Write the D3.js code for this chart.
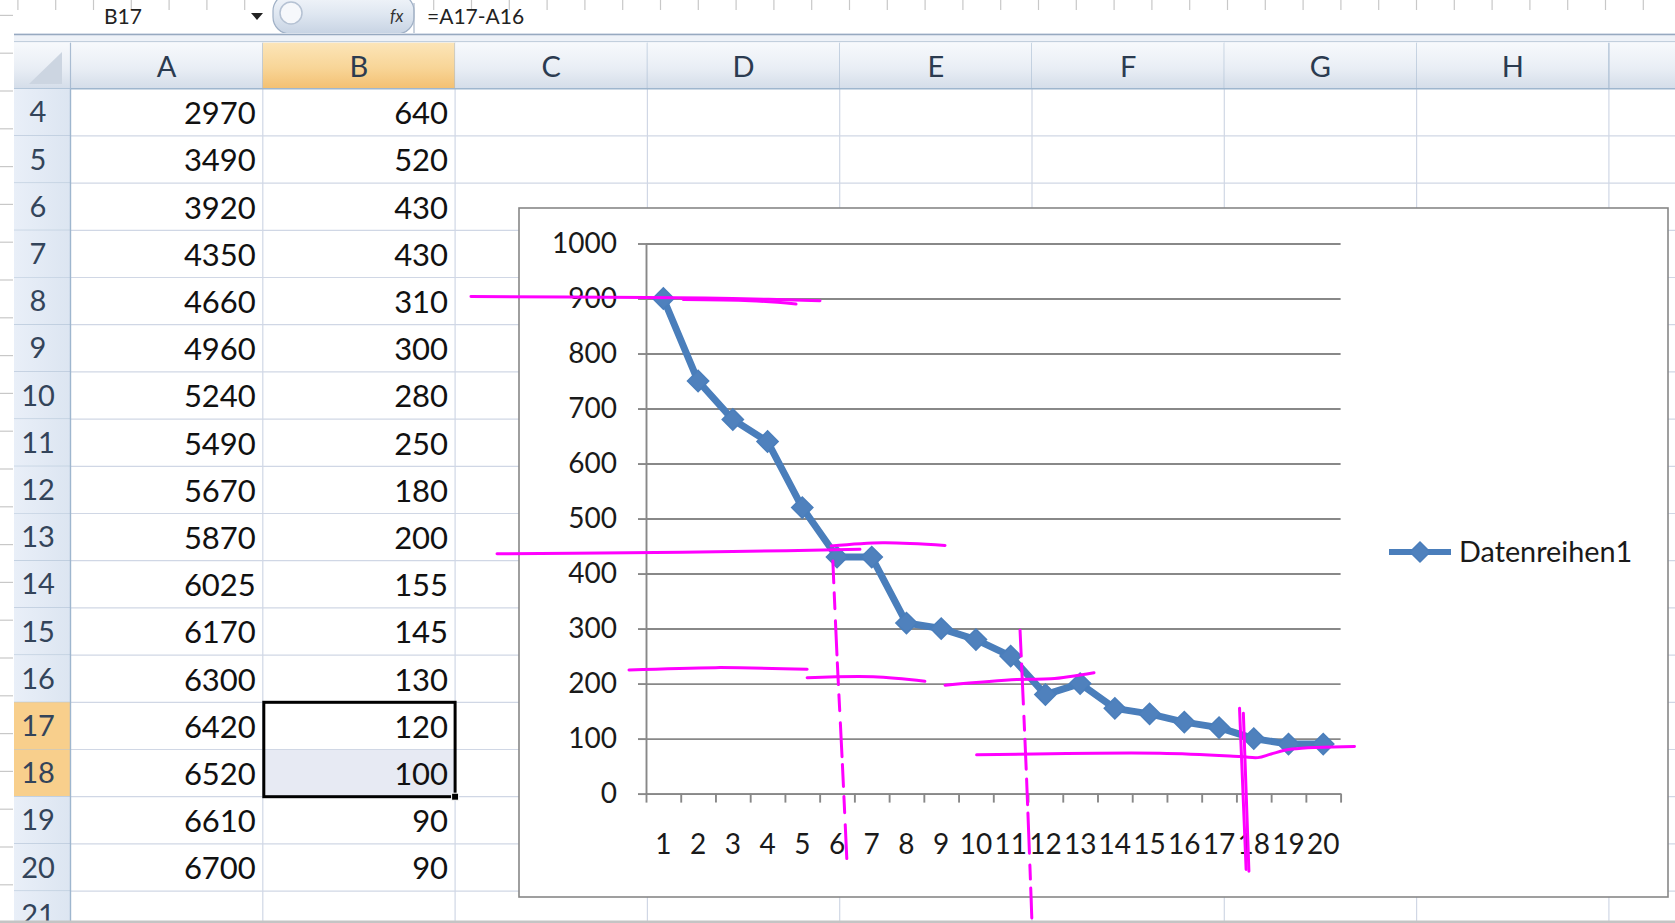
<!DOCTYPE html>
<html><head><meta charset="utf-8">
<script src="https://cdn.jsdelivr.net/npm/d3@7"></script>
<style>
body{margin:0;background:#fff;overflow:hidden}
svg{display:block}
text{font-family:Lato,"Open Sans",sans-serif}
</style></head><body>
<svg id="c" width="1675" height="923"></svg>
<script>
// ---------- chart data ----------
const categories = ["1","2","3","4","5","6","7","8","9","10","11","12","13","14","15","16","17","18","19","20"];
const values = [900,750,680,640,520,430,430,310,300,280,250,180,200,155,145,130,120,100,90,90];
const yTicks = [0,100,200,300,400,500,600,700,800,900,1000];
const seriesName = "Datenreihen1";
// ---------- spreadsheet data ----------
const rowNumbers = [4,5,6,7,8,9,10,11,12,13,14,15,16,17,18,19,20,21];
const colA = [2970,3490,3920,4350,4660,4960,5240,5490,5670,5870,6025,6170,6300,6420,6520,6610,6700];
const colB = [640,520,430,430,310,300,280,250,180,200,155,145,130,120,100,90,90];
const colLetters = ["A","B","C","D","E","F","G","H"];
const nameBox = "B17";
const formula = "=A17-A16";
// ---------- hand-drawn magenta ink, in chart data units [category position, value] ----------
const inkStrokes = [
  {dash:null, pts:[[-4.54,903.6],[0.5,902],[3.0,900],[5.51,896]]},
  {dash:null, pts:[[1.57,898],[3.5,896],[4.82,890]]},
  {dash:null, pts:[[-3.79,436],[0,438],[3,440],[6.66,444]]},
  {dash:null, pts:[[5.83,450],[7.32,456],[9.11,451]]},
  {dash:"22,10,16,12,34,8", pts:[[5.88,423],[6.0,250],[6.15,60],[6.29,-130]]},
  {dash:null, pts:[[0.01,224.7],[2.5,229],[5.14,226]]},
  {dash:null, pts:[[5.14,210.5],[7.04,212.3],[8.53,204.3]]},
  {dash:null, pts:[[9.11,197],[11.18,207.4],[12.16,208.6],[13.40,219.8]]},
  {dash:"26,8,40,12,14,9,30,10", pts:[[11.27,297],[11.45,40],[11.61,-228]]},
  {dash:null, pts:[[10.02,70.4],[15.30,73.5],[17.62,67.3],[18.12,65.4],[18.5,72],[19.10,80.9],[20.90,85.8]]},
  {dash:null, pts:[[17.59,155],[17.78,-138]]},
  {dash:null, pts:[[17.70,146],[17.86,-141]]}
];

const svg = d3.select("#c");
const W = 1675, H = 923;
svg.append("rect").attr("width",W).attr("height",H).attr("fill","#fff");

const defs = svg.append("defs");
function vgrad(id, stops){
  const g = defs.append("linearGradient").attr("id",id).attr("x1",0).attr("y1",0).attr("x2",0).attr("y2",1);
  stops.forEach(s=>g.append("stop").attr("offset",s[0]).attr("stop-color",s[1]));
}
vgrad("hdr",[[0,"#f7f9fc"],[0.55,"#e9eef5"],[1,"#d4dde9"]]);
vgrad("hdrSel",[[0,"#fce5b8"],[0.55,"#f8d597"],[1,"#f3c072"]]);
vgrad("pill",[[0,"#f3f6fa"],[0.5,"#dfe7f1"],[1,"#c7d3e3"]]);
const hg = defs.append("linearGradient").attr("id","rowHdr").attr("x1",0).attr("y1",0).attr("x2",1).attr("y2",0);
hg.append("stop").attr("offset",0).attr("stop-color","#e9eff8");
hg.append("stop").attr("offset",1).attr("stop-color","#dce5f1");

// ---------- sheet geometry ----------
const sheetLeft = 14, rowHdrRight = 70.5, colW = 192.3;
const hdrTop = 42.7, hdrBottom = 88.7, rowH = 47.2;
const xCol = d3.scaleBand().domain(colLetters).range([rowHdrRight, rowHdrRight + colW*colLetters.length]);
const yRow = d3.scaleBand().domain(rowNumbers).range([hdrBottom, hdrBottom + rowH*rowNumbers.length]);
const sheetRight = rowHdrRight + colW*colLetters.length;

// ruler ticks (top and left edges)
const rul = svg.append("g").attr("stroke","#c8c8c8").attr("stroke-width",1.2);
d3.range(0,45).forEach(k=>{
  const x = 17.9 + k*37.8;
  rul.append("line").attr("x1",x).attr("x2",x).attr("y1",0).attr("y2",10);
});
d3.range(0,25).forEach(k=>{
  const y = 15.4 + k*37.8;
  rul.append("line").attr("x1",0).attr("x2",13).attr("y1",y).attr("y2",y);
});

// formula bar
svg.append("text").attr("x",104).attr("y",17).attr("dy","0.35em").attr("font-size",21).attr("fill","#222").text(nameBox);
svg.append("path").attr("d","M251,13 L263,13 L257,20 Z").attr("fill","#222");
svg.append("rect").attr("x",273).attr("y",-6).attr("width",141).attr("height",40).attr("rx",17)
  .attr("fill","url(#pill)").attr("stroke","#9fb0c6").attr("stroke-width",1.2);
svg.append("circle").attr("cx",291).attr("cy",13).attr("r",11).attr("fill","#f6f8fb").attr("stroke","#b5c2d3").attr("stroke-width",1.5);
svg.append("text").attr("x",390).attr("y",16).attr("dy","0.35em").attr("font-size",17).attr("font-style","italic")
  .attr("font-family","Liberation Serif, serif").attr("fill","#333").text("fx");
svg.append("line").attr("x1",414).attr("x2",414).attr("y1",3).attr("y2",33).attr("stroke","#a8b6c8").attr("stroke-width",1.2);
svg.append("text").attr("x",427).attr("y",17).attr("dy","0.35em").attr("font-size",21).attr("fill","#222").text(formula);

// separator band
svg.append("rect").attr("x",sheetLeft).attr("y",33).attr("width",W-sheetLeft).attr("height",10).attr("fill","#eef2f8");
svg.append("line").attr("x1",sheetLeft).attr("x2",W).attr("y1",34.5).attr("y2",34.5).attr("stroke","#97a9c0").attr("stroke-width",1.6);
svg.append("line").attr("x1",sheetLeft).attr("x2",W).attr("y1",41.5).attr("y2",41.5).attr("stroke","#c2cfdd").attr("stroke-width",1);

// cells background (selection fill)
const selCol = "B", selRows = [17,18];
svg.append("rect").attr("x",xCol(selCol)).attr("y",yRow(18)).attr("width",colW).attr("height",rowH).attr("fill","#e7eaf3");

// cell gridlines
const grid = svg.append("g").attr("stroke","#d0d7e5").attr("stroke-width",1.2);
colLetters.forEach(c=>{
  const x = xCol(c)+colW;
  grid.append("line").attr("x1",x).attr("x2",x).attr("y1",hdrBottom).attr("y2",H);
});
rowNumbers.forEach(r=>{
  const y = yRow(r)+rowH;
  grid.append("line").attr("x1",rowHdrRight).attr("x2",W).attr("y1",y).attr("y2",y);
});

// column headers
svg.append("rect").attr("x",sheetLeft).attr("y",hdrTop).attr("width",rowHdrRight-sheetLeft).attr("height",hdrBottom-hdrTop).attr("fill","url(#hdr)");
svg.append("path").attr("d",`M62,52 L62,84 L29,84 Z`).attr("fill","#ccd5e1");
svg.append("rect").attr("x",sheetRight).attr("y",hdrTop).attr("width",W-sheetRight).attr("height",hdrBottom-hdrTop).attr("fill","url(#hdr)");
colLetters.forEach(c=>{
  svg.append("rect").attr("x",xCol(c)).attr("y",hdrTop).attr("width",colW).attr("height",hdrBottom-hdrTop)
    .attr("fill", c===selCol ? "url(#hdrSel)" : "url(#hdr)");
  svg.append("line").attr("x1",xCol(c)+colW).attr("x2",xCol(c)+colW).attr("y1",hdrTop).attr("y2",hdrBottom)
    .attr("stroke","#a9bcd2").attr("stroke-width",1.2);
  svg.append("text").attr("x",xCol(c)+colW/2).attr("y",(hdrTop+hdrBottom)/2+1).attr("dy","0.35em")
    .attr("text-anchor","middle").attr("font-size",29).attr("fill","#2b3b50").text(c);
});
svg.append("line").attr("x1",rowHdrRight).attr("x2",rowHdrRight).attr("y1",hdrTop).attr("y2",hdrBottom).attr("stroke","#a9bcd2").attr("stroke-width",1.2);
svg.append("line").attr("x1",sheetLeft).attr("x2",W).attr("y1",hdrBottom).attr("y2",hdrBottom).attr("stroke","#9eb6ce").attr("stroke-width",1.4);

// row headers
rowNumbers.forEach(r=>{
  const sel = selRows.includes(r);
  svg.append("rect").attr("x",sheetLeft).attr("y",yRow(r)).attr("width",rowHdrRight-sheetLeft).attr("height",rowH)
    .attr("fill", sel ? "#f8cf8c" : "url(#rowHdr)");
  svg.append("line").attr("x1",sheetLeft).attr("x2",rowHdrRight).attr("y1",yRow(r)+rowH).attr("y2",yRow(r)+rowH)
    .attr("stroke","#b4c5d8").attr("stroke-width",1.2);
  svg.append("text").attr("x",38).attr("y",yRow(r)+rowH/2).attr("dy","0.35em").attr("text-anchor","middle")
    .attr("font-size",29).attr("fill","#33445a").text(r);
});
svg.append("line").attr("x1",rowHdrRight).attr("x2",rowHdrRight).attr("y1",hdrBottom).attr("y2",H).attr("stroke","#9eb6ce").attr("stroke-width",1.4);

// cell values
const dataRows = rowNumbers.slice(0, colA.length);
dataRows.forEach((r,i)=>{
  svg.append("text").attr("x",xCol("A")+colW-7).attr("y",yRow(r)+rowH/2+1).attr("dy","0.35em").attr("text-anchor","end")
    .attr("font-size",31).attr("fill","#111").text(colA[i]);
  svg.append("text").attr("x",xCol("B")+colW-7).attr("y",yRow(r)+rowH/2+1).attr("dy","0.35em").attr("text-anchor","end")
    .attr("font-size",31).attr("fill","#111").text(colB[i]);
});

// selection border
svg.append("rect").attr("x",xCol(selCol)+1).attr("y",yRow(17)).attr("width",colW-1).attr("height",rowH*2)
  .attr("fill","none").attr("stroke","#000").attr("stroke-width",3);
svg.append("rect").attr("x",xCol(selCol)+colW-3.5).attr("y",yRow(18)+rowH-3.5).attr("width",7).attr("height",7).attr("fill","#000").attr("stroke","#fff").attr("stroke-width",1);

// bottom strip
svg.append("rect").attr("x",0).attr("y",920.5).attr("width",W).attr("height",3).attr("fill","#c4c4c4");

// ---------- chart ----------
const chartBox = {x:519, y:208, w:1668-519, h:897-208};
svg.append("rect").attr("x",chartBox.x).attr("y",chartBox.y).attr("width",chartBox.w).attr("height",chartBox.h)
  .attr("fill","#fff").attr("stroke","#878787").attr("stroke-width",1.6);

const plotL = 646, plotR = 1340.6, plotT = 243.5, plotB = 793.6;
const x = d3.scaleBand().domain(categories).range([plotL, plotR]);
const xInk = d3.scaleLinear().domain([0.5, categories.length+0.5]).range([plotL, plotR]);
const y = d3.scaleLinear().domain([0, 1000]).range([plotB, plotT]);

// gridlines
const gridG = svg.append("g").attr("transform",`translate(${plotL},0)`)
  .call(d3.axisLeft(y).tickValues(yTicks).tickSize(-(plotR-plotL)).tickFormat(""));
gridG.select(".domain").remove();
gridG.selectAll("line").attr("stroke","#888").attr("stroke-width",1.9);

// y axis
const yAx = svg.append("g").attr("transform",`translate(${plotL},0)`)
  .call(d3.axisLeft(y).tickValues(yTicks).tickSize(8).tickSizeOuter(0).tickPadding(21).tickFormat(d3.format("d")));
yAx.select(".domain").attr("stroke","#888").attr("stroke-width",1.9);
yAx.selectAll("line").attr("stroke","#888").attr("stroke-width",1.9);
yAx.selectAll("text").attr("font-size",28).attr("fill","#1a1a1a").attr("font-family","Lato, sans-serif");

// x axis ticks at category boundaries
const bounds = categories.map(c=>x(c)).concat([plotR]).map(px=>xInk.invert(px));
const xTk = svg.append("g").attr("transform",`translate(0,${plotB})`)
  .call(d3.axisBottom(xInk).tickValues(bounds).tickSize(9).tickSizeOuter(0).tickFormat(""));
xTk.select(".domain").attr("stroke","#888").attr("stroke-width",1.9);
xTk.selectAll("line").attr("stroke","#888").attr("stroke-width",1.9);

// x axis labels
const xLb = svg.append("g").attr("transform",`translate(0,${plotB})`)
  .call(d3.axisBottom(x).tickSize(0));
xLb.select(".domain").remove();
xLb.selectAll("text").attr("y",51).attr("dy","0.35em").attr("font-size",28).attr("fill","#1a1a1a").attr("font-family","Lato, sans-serif");

// series
const seriesColor = "#4a7ebb";
const line = d3.line().x((d,i)=>x(categories[i])+x.bandwidth()/2).y(d=>y(d));
svg.append("path").datum(values).attr("d",line).attr("fill","none")
  .attr("stroke",seriesColor).attr("stroke-width",7).attr("stroke-linejoin","round").attr("stroke-linecap","round");
const diamond = d3.symbol().type(d3.symbolSquare).size(225);
svg.append("g").selectAll("path").data(values).join("path")
  .attr("d",diamond)
  .attr("transform",(d,i)=>`translate(${x(categories[i])+x.bandwidth()/2},${y(d)}) rotate(45)`)
  .attr("fill","#4f81bd").attr("stroke",seriesColor).attr("stroke-width",1.5);

// legend
const lg = svg.append("g");
lg.append("line").attr("x1",1389).attr("x2",1451).attr("y1",552).attr("y2",552).attr("stroke",seriesColor).attr("stroke-width",6);
lg.append("path").attr("d",d3.symbol().type(d3.symbolSquare).size(200)).attr("transform","translate(1420,552) rotate(45)")
  .attr("fill","#4f81bd").attr("stroke",seriesColor).attr("stroke-width",1.5);
lg.append("text").attr("x",1459).attr("y",552).attr("dy","0.35em").attr("font-size",28.8).attr("fill","#1a1a1a").text(seriesName);

// ---------- magenta ink ----------
const inkLine = d3.line().x(d=>xInk(d[0])).y(d=>y(d[1])).curve(d3.curveCatmullRom);
const inkG = svg.append("g");
inkStrokes.forEach(s=>{
  inkG.append("path").attr("d",inkLine(s.pts)).attr("fill","none").attr("stroke","#ff00ff")
    .attr("stroke-width",3).attr("stroke-linecap","round").attr("stroke-linejoin","round")
    .attr("stroke-dasharray", s.dash);
});
</script>
</body></html>
